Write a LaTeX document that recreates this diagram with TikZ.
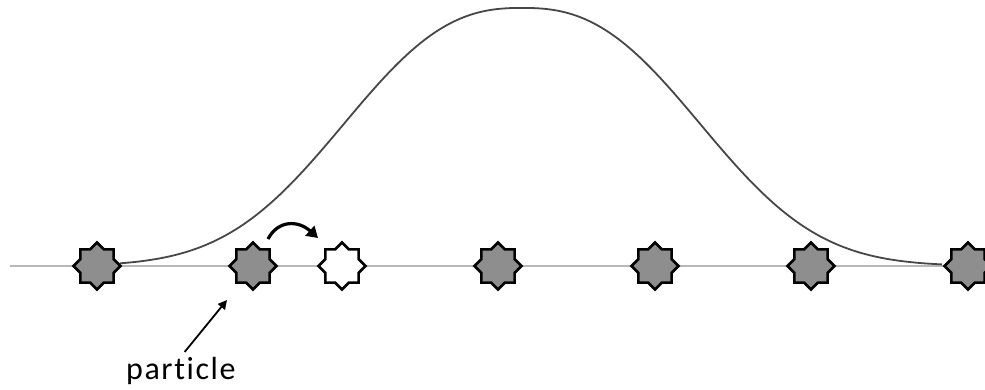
\documentclass[tikz,border=0pt]{standalone}
\usepackage{fontspec}
\setmainfont[Ligatures=NoCommon]{Carlito}
\newfontfamily\labelfont[Ligatures=NoCommon,LetterSpace=5]{Carlito}
\usetikzlibrary{shapes.geometric,arrows.meta}
\definecolor{curvegray}{HTML}{474747}
\definecolor{linegray}{HTML}{B8B8B8}
\definecolor{particlegray}{HTML}{8E8E8E}
\tikzset{
  particle/.style={star, star points=8, star point ratio=1.31, minimum size=47pt,
    inner sep=0pt, draw=black, line width=2.6pt, fill=particlegray, line join=miter},
  hole/.style={particle, fill=white},
  bell/.style={draw=curvegray, line width=1.8pt},
  axisline/.style={draw=linegray, line width=2.2pt},
  jump/.style={line width=3.2pt, -{Triangle[length=11pt,width=13pt]}},
  pointer/.style={line width=1.8pt, -{Triangle[length=9pt,width=9pt]}}
}
\begin{document}
\begin{tikzpicture}[x=1pt,y=-1pt]
\useasboundingbox (0,0) rectangle (985,389);
% axis line
\coordinate (lstart) at (10,266);
\coordinate (lend) at (985,266);
\draw[axisline] (lstart) -- (lend);
% bell curve
\draw[bell] plot[domain=120:942, samples=250, variable=\t]
  ({\t}, {266-258*exp(-((abs(\t-522)/219)^2)*sqrt(abs(\t-522)/219))});
% particles
\node[particle] (p1) at (97,266) {};
\node[particle] (p2) at (253,266) {};
\node[hole]     (h1) at (342,266) {};
\node[particle] (p3) at (498,266) {};
\node[particle] (p4) at (655,266) {};
\node[particle] (p5) at (811,266) {};
\node[particle] (p6) at (968,266) {};
% jump arrow
\coordinate (jA) at (268,239);
\coordinate (jB) at (318,238);
\draw[jump] (jA) .. controls (278,220) and (298,220) .. (jB);
% label
\node[font=\labelfont\fontsize{32}{38}\selectfont, inner sep=0pt, anchor=base west] (ptext) at (126,379) {particle};
\coordinate (ptip) at (227,300);
\draw[pointer, shorten <=6pt] (ptext.north) -- (ptip);
\end{tikzpicture}
\end{document}
